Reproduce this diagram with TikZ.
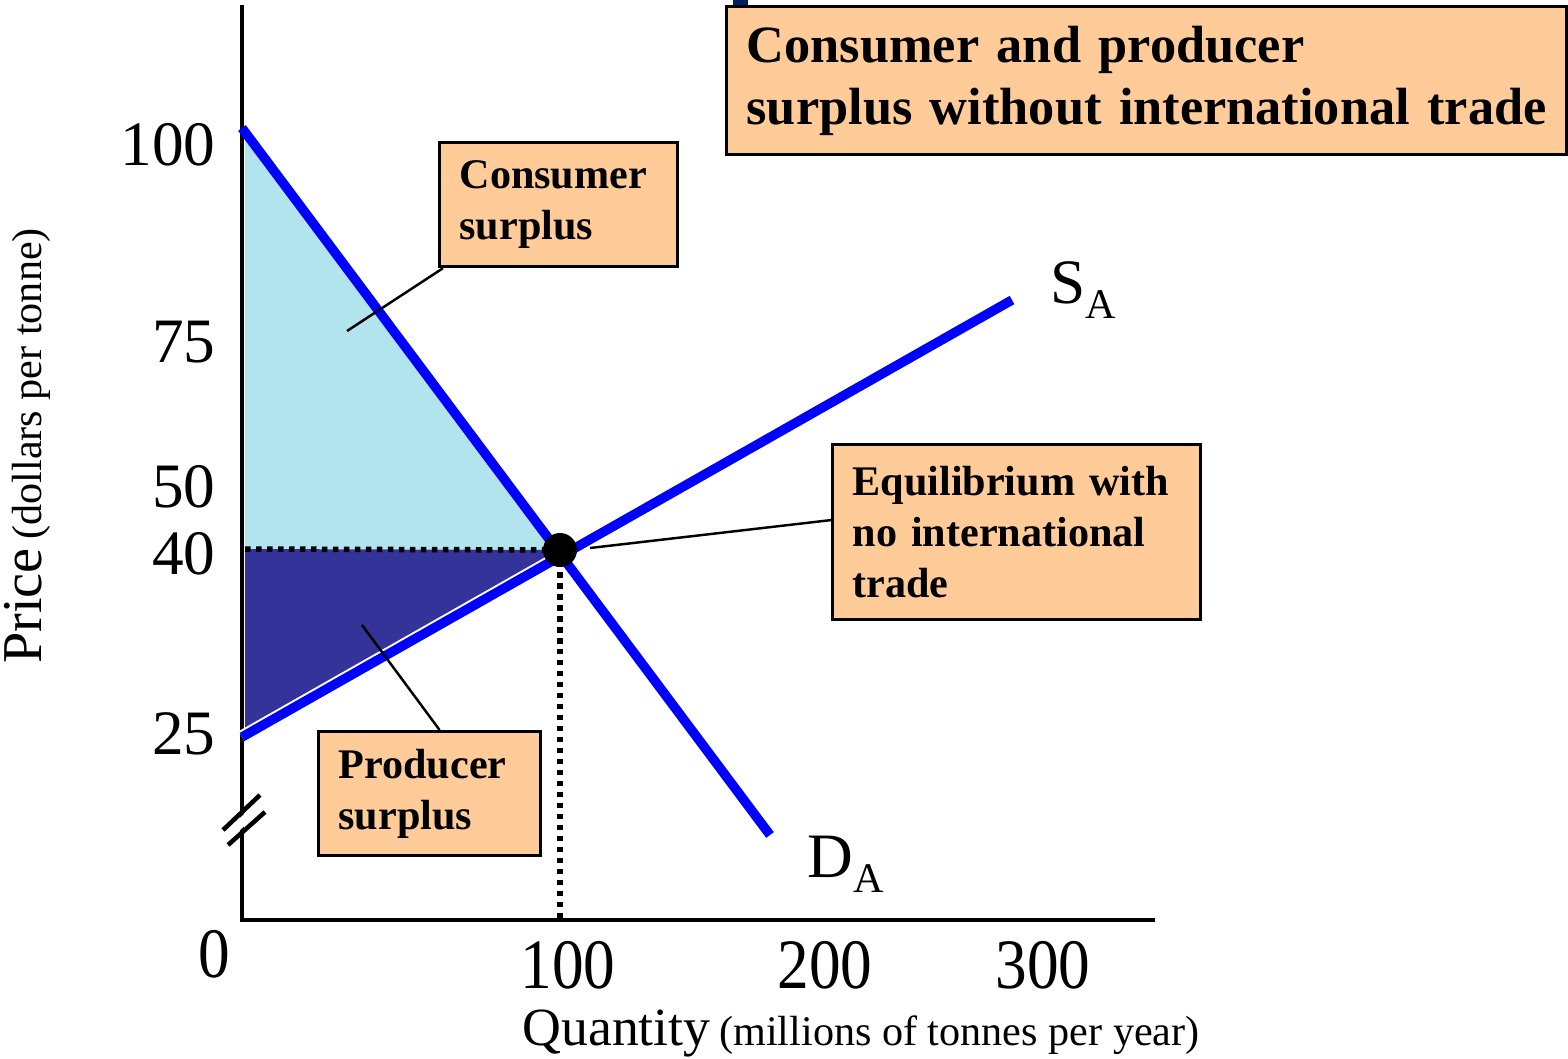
\documentclass[tikz,border=0pt]{standalone}
\usepackage{fontspec}
\setmainfont{Liberation Serif}
\usetikzlibrary{positioning,calc}
\definecolor{peach}{RGB}{255,204,153}
\definecolor{csurplus}{RGB}{178,228,238}
\definecolor{psurplus}{RGB}{51,51,153}
\definecolor{curveblue}{RGB}{0,0,255}
\definecolor{navymark}{RGB}{0,32,96}

\begin{document}
\begin{tikzpicture}[
    label box/.style={draw=black,line width=0.9pt,fill=peach,anchor=north west,align=left,
        inner xsep=0.2cm,inner ysep=0pt,font=\bfseries\fontsize{12}{14.5}\selectfont},
    curve line/.style={curveblue,line width=0.095cm},
    guide/.style={line width=0.055cm,dash pattern=on 0.055cm off 0.055cm},
    pointer/.style={line width=0.7pt},
    tick/.style={inner sep=0pt,font=\fontsize{18}{18}\selectfont}]
    \useasboundingbox (0,0) rectangle (15.68,10.58);
    \coordinate (E) at (5.60,5.08);
    % surplus areas
    \fill[csurplus] (2.45,9.28)--(E)--(2.45,5.09)--cycle;
    \fill[psurplus] (2.45,5.09)--(E)--(2.45,3.23)--cycle;
    % axes and break
    \draw[line width=0.045cm] (2.42,10.53)--(2.42,1.38)--(11.55,1.38);
    \draw[white,line width=0.09cm] (2.25,2.205)--(2.625,2.545);
    \draw[line width=0.045cm] (2.23,2.28)--(2.60,2.63);
    \draw[line width=0.045cm] (2.28,2.13)--(2.65,2.46);
    % curves
    \draw[white,line width=0.135cm] (2.42,3.21)--(10.12,7.58);
    \draw[curve line] (2.42,3.21)--(10.12,7.58);
    \draw[curve line] (2.42,9.30)--(7.70,2.23);
    \draw[guide] (2.45,5.09)--(E);
    \draw[guide] (E)--(5.60,1.40);
    \node[circle,fill=black,inner sep=0pt,minimum size=0.34cm] (eqdot) at (E) {};
    \node[anchor=base west,inner sep=0pt,font=\fontsize{18}{18}\selectfont] (sa) at (10.50,7.55)
        {S\raisebox{-0.15cm}{\fontsize{12}{12}\selectfont A}};
    \node[anchor=base west,inner sep=0pt,font=\fontsize{18}{18}\selectfont] (da) at (8.07,1.81)
        {D\raisebox{-0.15cm}{\fontsize{12}{12}\selectfont A}};
    % ticks
    \foreach \y/\t in {9.13/100,7.16/75,5.71/50,5.04/40,3.24/25}{
        \node[tick,anchor=east] (yt\t) at (2.16,\y) {\t};
    }
    \foreach \x/\t in {5.68/100,8.25/200,10.43/300}{
        \node[tick] (xt\t) at (\x,0.93) {\scalebox{1}[1.12]{\t}};
    }
    \node[tick] (zero) at (2.14,1.04) {\scalebox{1}[1.12]{0}};
    \node[anchor=base,rotate=90,inner sep=0pt] (ylab) at (0.42,6.12)
        {{\fontsize{16}{16}\selectfont Price} {\fontsize{12}{12}\selectfont (dollars per tonne)}};
    \node[anchor=base,inner sep=0pt] (xlab) at (8.61,0.13)
        {{\fontsize{15.3}{15.3}\selectfont Quantity} {\fontsize{12}{12}\selectfont (millions of tonnes per year)}};
    % boxes
    \fill[navymark] (7.33,10.58) rectangle (7.48,10.53);
    \node[label box,text width=8.0cm,minimum height=1.48cm,font=\bfseries\fontsize{14.9}{17.6}\selectfont]
        (title) at (7.25,10.53) {\mbox{Consumer and producer}\\\mbox{surplus without international trade}};
    \node[label box,text width=1.98cm,minimum height=1.24cm] (cs) at (4.38,9.17) {Consumer\\surplus};
    \node[label box,text width=3.28cm,minimum height=1.75cm] (eq) at (8.31,6.15)
        {Equilibrium with\\no international\\trade};
    \node[label box,text width=1.82cm,minimum height=1.24cm] (ps) at (3.17,3.28) {Producer\\surplus};
    \coordinate (csp) at (3.47,7.27);
    \coordinate (eqp) at (5.90,5.10);
    \coordinate (psp) at (3.62,4.33);
    \draw[pointer] ([xshift=0.05cm]cs.south west)--(csp);
    \draw[pointer] ([yshift=0.12cm]eq.west)--(eqp);
    \draw[pointer] ([xshift=0.1cm]ps.north)--(psp);
\end{tikzpicture}
\end{document}
